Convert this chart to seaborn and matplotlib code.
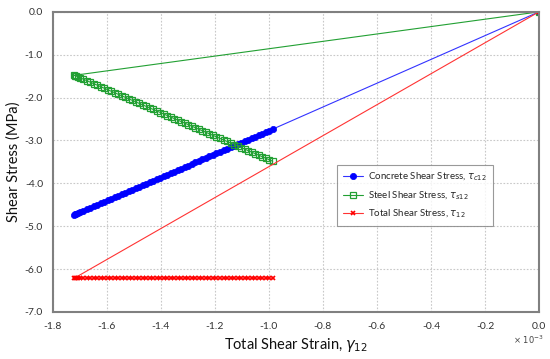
import matplotlib
matplotlib.use('Agg')
import matplotlib.pyplot as plt
import seaborn as sns

# Deformación (x 10^-3) y esfuerzos (MPa)
strain = [-1.720, -1.717, -1.713, -1.708, -1.700, -1.688, -1.675, -1.662,
          -1.649, -1.636, -1.623, -1.610, -1.597, -1.584, -1.571, -1.558,
          -1.545, -1.532, -1.519, -1.506, -1.493, -1.480, -1.467, -1.454,
          -1.441, -1.428, -1.415, -1.402, -1.389, -1.376, -1.363, -1.350,
          -1.337, -1.324, -1.311, -1.298, -1.285, -1.272, -1.259, -1.246,
          -1.233, -1.220, -1.207, -1.194, -1.181, -1.168, -1.155, -1.142,
          -1.129, -1.116, -1.103, -1.090, -1.077, -1.064, -1.051, -1.038,
          -1.025, -1.012, -0.999, -0.986]

concrete = [-4.730, -4.722, -4.711, -4.697, -4.676, -4.643, -4.608, -4.572,
            -4.537, -4.502, -4.467, -4.431, -4.396, -4.361, -4.325, -4.290,
            -4.255, -4.219, -4.184, -4.149, -4.113, -4.078, -4.043, -4.008,
            -3.972, -3.937, -3.902, -3.866, -3.831, -3.796, -3.760, -3.725,
            -3.690, -3.654, -3.619, -3.584, -3.549, -3.513, -3.478, -3.443,
            -3.407, -3.372, -3.337, -3.301, -3.266, -3.231, -3.195, -3.160,
            -3.125, -3.090, -3.054, -3.019, -2.984, -2.948, -2.913, -2.878,
            -2.842, -2.807, -2.772, -2.736]

steel = [-1.480, -1.488, -1.499, -1.513, -1.535, -1.567, -1.603, -1.638,
         -1.674, -1.709, -1.745, -1.780, -1.816, -1.851, -1.887, -1.922,
         -1.958, -1.993, -2.029, -2.064, -2.100, -2.135, -2.171, -2.206,
         -2.242, -2.277, -2.313, -2.348, -2.384, -2.419, -2.455, -2.490,
         -2.526, -2.561, -2.597, -2.632, -2.668, -2.703, -2.739, -2.774,
         -2.810, -2.845, -2.881, -2.916, -2.952, -2.987, -3.023, -3.058,
         -3.094, -3.129, -3.165, -3.200, -3.236, -3.271, -3.307, -3.342,
         -3.378, -3.413, -3.449, -3.484]

total = [-6.21, -6.21, -6.21, -6.21, -6.21, -6.21, -6.21, -6.21,
         -6.21, -6.21, -6.21, -6.21, -6.21, -6.21, -6.21, -6.21,
         -6.21, -6.21, -6.21, -6.21, -6.21, -6.21, -6.21, -6.21,
         -6.21, -6.21, -6.21, -6.21, -6.21, -6.21, -6.21, -6.21,
         -6.21, -6.21, -6.21, -6.21, -6.21, -6.21, -6.21, -6.21,
         -6.21, -6.21, -6.21, -6.21, -6.21, -6.21, -6.21, -6.21,
         -6.21, -6.21, -6.21, -6.21, -6.21, -6.21, -6.21, -6.21,
         -6.21, -6.21, -6.21, -6.21]

yticks = [0.0, -1.0, -2.0, -3.0, -4.0, -5.0, -6.0, -7.0]
xticks = [-1.8, -1.6, -1.4, -1.2, -1.0, -0.8, -0.6, -0.4, -0.2, 0.0]

sns.set_style('white')
plt.rcParams['font.family'] = ['Lato', 'DejaVu Sans']
plt.rcParams['mathtext.fontset'] = 'dejavusans'

fig = plt.figure(figsize=(5.5, 3.59), dpi=100)
ax = fig.add_axes([0.096, 0.131, 0.884, 0.836])

# Cada serie arranca en el origen
x_con = [0.0] + strain[::-1]
y_con = [0.0] + concrete[::-1]
x_ste = [0.0] + strain
y_ste = [0.0] + steel
x_tot = [0.0] + strain
y_tot = [0.0] + total

sns.lineplot(x=x_con, y=y_con, sort=False, estimator=None, ax=ax,
             color='#3333ff', lw=0.8, marker='o', ms=4.5,
             markerfacecolor='#0000ff', markeredgecolor='#0000ff', mew=0.5,
             label=r'Concrete Shear Stress, $\tau_{c12}$')
sns.lineplot(x=x_ste, y=y_ste, sort=False, estimator=None, ax=ax,
             color='#22a033', lw=0.8, marker='s', ms=4,
             markerfacecolor='none', markeredgecolor='#22a033', mew=0.9,
             label=r'Steel Shear Stress, $\tau_{s12}$')
sns.lineplot(x=x_tot, y=y_tot, sort=False, estimator=None, ax=ax,
             color='#ff3333', lw=0.8, marker='x', ms=3.5,
             markeredgecolor='#ff0000', mew=1.2,
             label=r'Total Shear Stress, $\tau_{12}$')

ax.set_xlim(-1.8, 0.0)
ax.set_ylim(-7.0, 0.0)
ax.set_xticks(xticks)
ax.set_yticks(yticks)
ax.set_xticklabels([f'{v:.1f}' for v in xticks])
ax.set_yticklabels([f'{v:.1f}' for v in yticks])
ax.tick_params(axis='both', length=0, labelsize=7.5, colors='#333333', pad=7)

ax.grid(True, linestyle=(0, (1.5, 1.5)), color='#c8c8c8', lw=0.8)
for s in ax.spines.values():
    s.set_color('#808080')
    s.set_linewidth(1.5)

ax.set_xlabel(r'Total Shear Strain, $\gamma_{12}$', fontsize=10.5,
              color='#111111', labelpad=4)
ax.set_ylabel('Shear Stress (MPa)', fontsize=10.5, color='#111111',
              labelpad=3)
fig.text(0.96, 0.053, r'$\times\ 10^{-3}$', fontsize=6, color='#444444',
         ha='center', va='center')

leg = ax.legend(loc='upper left', bbox_to_anchor=(0.585, 0.49),
                fontsize=7, frameon=True, fancybox=False,
                edgecolor='#808080', handlelength=2.0, handletextpad=0.6,
                borderpad=0.6, labelspacing=0.6, borderaxespad=0)
leg.get_frame().set_linewidth(0.8)

fig.savefig('out.png', dpi=100)
